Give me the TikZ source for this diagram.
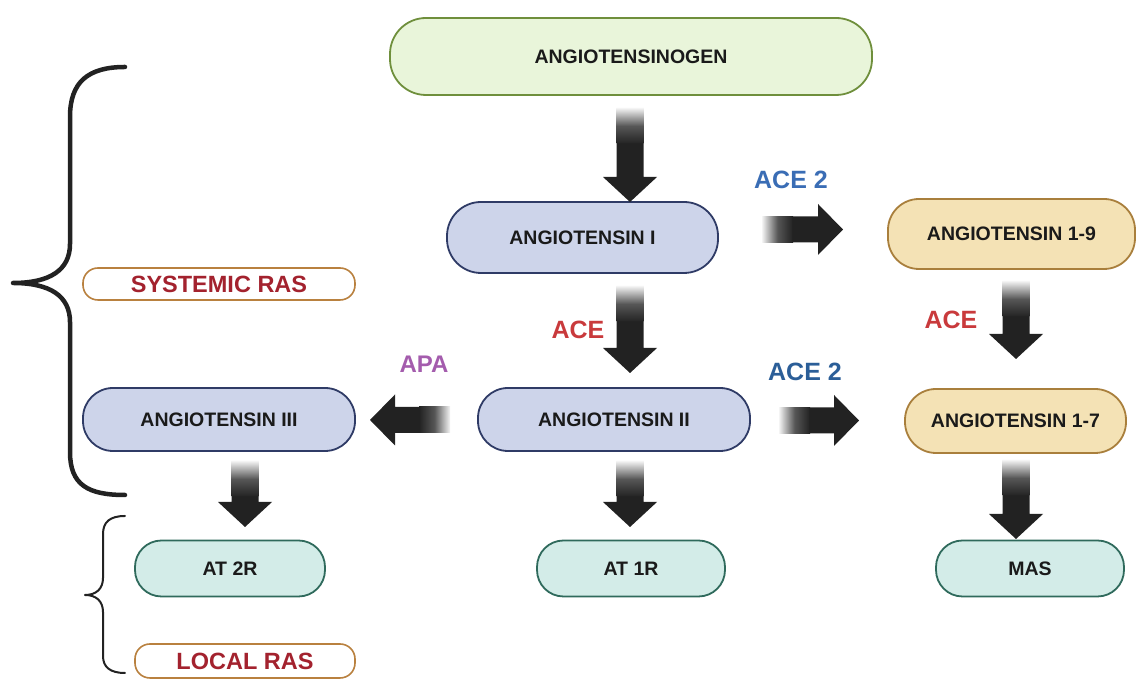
\documentclass[tikz,border=0pt]{standalone}
\usepackage{fontspec}
\setmainfont{Liberation Sans}
\usetikzlibrary{calc}
\definecolor{agofill}{HTML}{E9F5DA}
\definecolor{agodraw}{HTML}{6F8F3C}
\definecolor{angfill}{HTML}{CDD4EA}
\definecolor{angdraw}{HTML}{2F3B66}
\definecolor{tanfill}{HTML}{F4E2B5}
\definecolor{tandraw}{HTML}{A97F3C}
\definecolor{tealfill}{HTML}{D3ECE8}
\definecolor{tealdraw}{HTML}{2F6A5C}
\definecolor{rasdraw}{HTML}{B9813F}
\definecolor{rastext}{HTML}{A3222E}
\definecolor{acered}{HTML}{C93A3C}
\definecolor{aceblueA}{HTML}{3A6DB5}
\definecolor{aceblueB}{HTML}{2B5E98}
\definecolor{apapurple}{HTML}{A45CAD}
\definecolor{arrowc}{HTML}{222222}
\definecolor{fadec}{HTML}{F4F4F4}
\definecolor{boxtext}{HTML}{1A1A1A}
\newcommand\fatdown[2]{%
  \shade[top color=fadec, bottom color=arrowc, middle color=arrowc!75!fadec] let \p1=(#1) in
    (\x1-13.5pt,\y1+4pt) rectangle (\x1+13.5pt,\y1-32pt);
  \fill[arrowc] let \p1=(#1), \p2=(#2) in
    (\x1-13.5pt,\y1-31.6pt) -- (\x1-13.5pt,\y2+25pt) -- (\x1-27pt,\y2+25pt) -- (\x1,\y2)
    -- (\x1+27pt,\y2+25pt) -- (\x1+13.5pt,\y2+25pt) -- (\x1+13.5pt,\y1-31.6pt) -- cycle;}
\newcommand\fatright[2]{%
  \shade[left color=fadec, right color=arrowc, middle color=arrowc!75!fadec] let \p1=(#1) in
    (\x1-3pt,\y1-13pt) rectangle (\x1+28pt,\y1+13pt);
  \fill[arrowc] let \p1=(#1), \p2=(#2) in
    (\x1+27.6pt,\y1-13pt) -- (\x2-25pt,\y1-13pt) -- (\x2-25pt,\y1-25.5pt) -- (\x2,\y1)
    -- (\x2-25pt,\y1+25.5pt) -- (\x2-25pt,\y1+13pt) -- (\x1+27.6pt,\y1+13pt) -- cycle;}
\newcommand\fatleft[2]{%
  \shade[right color=fadec, left color=arrowc, middle color=arrowc!75!fadec] let \p1=(#1) in
    (\x1+3pt,\y1-13pt) rectangle (\x1-28pt,\y1+13pt);
  \fill[arrowc] let \p1=(#1), \p2=(#2) in
    (\x1-27.6pt,\y1-13pt) -- (\x2+25pt,\y1-13pt) -- (\x2+25pt,\y1-25.5pt) -- (\x2,\y1)
    -- (\x2+25pt,\y1+25.5pt) -- (\x2+25pt,\y1+13pt) -- (\x1-27.6pt,\y1+13pt) -- cycle;}
\tikzset{
  pill/.style={line width=1.8pt, inner sep=0pt, text=boxtext,
    font=\fontsize{19.5}{22}\selectfont\bfseries},
  agobox/.style={pill, rounded corners=36pt, fill=agofill, draw=agodraw},
  angbox/.style={pill, rounded corners=30pt, fill=angfill, draw=angdraw},
  tanbox/.style={pill, rounded corners=31pt, fill=tanfill, draw=tandraw},
  tealbox/.style={pill, rounded corners=26.5pt, fill=tealfill, draw=tealdraw},
  rasbox/.style={rounded corners=15pt, line width=1.6pt, inner sep=0pt, fill=white,
    draw=rasdraw, text=rastext, font=\fontsize{23.5}{26}\selectfont\bfseries},
  enz/.style={inner sep=0pt, font=\fontsize{25}{28}\selectfont\bfseries},
  brace/.style={draw=arrowc, line cap=round, line join=round}
}
\begin{document}
\begin{tikzpicture}[x=1pt,y=1pt]
\useasboundingbox[fill=white] (0,0) rectangle (1136,692);
% nodes
\node[agobox, minimum width=482pt, minimum height=77pt] (ago) at (631,635.5) {ANGIOTENSINOGEN};
\node[angbox, minimum width=271pt, minimum height=71pt, rounded corners=34pt] (ang1) at (582.5,454.5) {ANGIOTENSIN I};
\node[tanbox, minimum width=247pt, minimum height=70pt] (a19) at (1011.5,458) {ANGIOTENSIN 1-9};
\node[angbox, minimum width=272pt, minimum height=63pt] (ang2) at (614,272.5) {ANGIOTENSIN II};
\node[angbox, minimum width=272pt, minimum height=63pt] (ang3) at (219,272.5) {ANGIOTENSIN III};
\node[tanbox, minimum width=221pt, minimum height=64pt] (a17) at (1015.5,271) {ANGIOTENSIN 1-7};
\node[rasbox, minimum width=272pt, minimum height=32pt] (sys) at (219,408) {SYSTEMIC RAS};
\node[tealbox, minimum width=190pt, minimum height=56pt] (at2) at (230,123.5) {AT 2R};
\node[tealbox, minimum width=188pt, minimum height=56pt] (at1) at (631,123.5) {AT 1R};
\node[tealbox, minimum width=188pt, minimum height=56pt] (mas) at (1030,123.5) {MAS};
\node[rasbox, minimum width=220pt, minimum height=34pt] (loc) at (245,31) {LOCAL RAS};
% enzyme labels
\node[enz, text=aceblueA] (l1) at (791,512) {ACE 2};
\node[enz, text=acered] (l2) at (578,362) {ACE};
\node[enz, text=apapurple, font=\fontsize{24}{27}\selectfont\bfseries] (l3) at (424,328) {APA};
\node[enz, text=aceblueB] (l4) at (805,320) {ACE 2};
\node[enz, text=acered] (l5) at (951,372) {ACE};
% arrow end points
\coordinate (t1) at (630,580);  \coordinate (h1) at (630,490);
\coordinate (t2) at (630,402);  \coordinate (h2) at (630,319);
\coordinate (t3) at (765,462.5);\coordinate (h3) at (843,462.5);
\coordinate (t4) at (782,271.5);\coordinate (h4) at (859,271.5);
\coordinate (t5) at (447,272);  \coordinate (h5) at (370,272);
\coordinate (t6) at (1016,407); \coordinate (h6) at (1016,333);
\coordinate (t7) at (245,227);  \coordinate (h7) at (245,165);
\coordinate (t8) at (630,227);  \coordinate (h8) at (630,165);
\coordinate (t9) at (1016,228); \coordinate (h9) at (1016,153);
\fatdown{t1}{h1}
\fatdown{t2}{h2}
\fatright{t3}{h3}
\fatright{t4}{h4}
\fatleft{t5}{h5}
\fatdown{t6}{h6}
\fatdown{t7}{h7}
\fatdown{t8}{h8}
\fatdown{t9}{h9}
% braces
\coordinate (b1s) at (125,625); \coordinate (b1t) at (13,409); \coordinate (b1e) at (125,197);
\draw[brace, line width=4.5pt] (b1s) .. controls (88,625) and (70,610) .. (70,575) -- (70,448)
  .. controls (70,422) and (50,409) .. (b1t) .. controls (50,409) and (70,396) .. (70,370)
  -- (70,240) .. controls (70,207) and (88,197) .. (b1e);
\coordinate (b2s) at (125,176); \coordinate (b2t) at (85,97); \coordinate (b2e) at (125,19);
\draw[brace, line width=2pt] (b2s) .. controls (110,176) and (103,170) .. (103,158) -- (103,114)
  .. controls (103,103) and (96,97) .. (b2t) .. controls (96,97) and (103,91) .. (103,80)
  -- (103,36) .. controls (103,25) and (110,19) .. (b2e);
\end{tikzpicture}
\end{document}
